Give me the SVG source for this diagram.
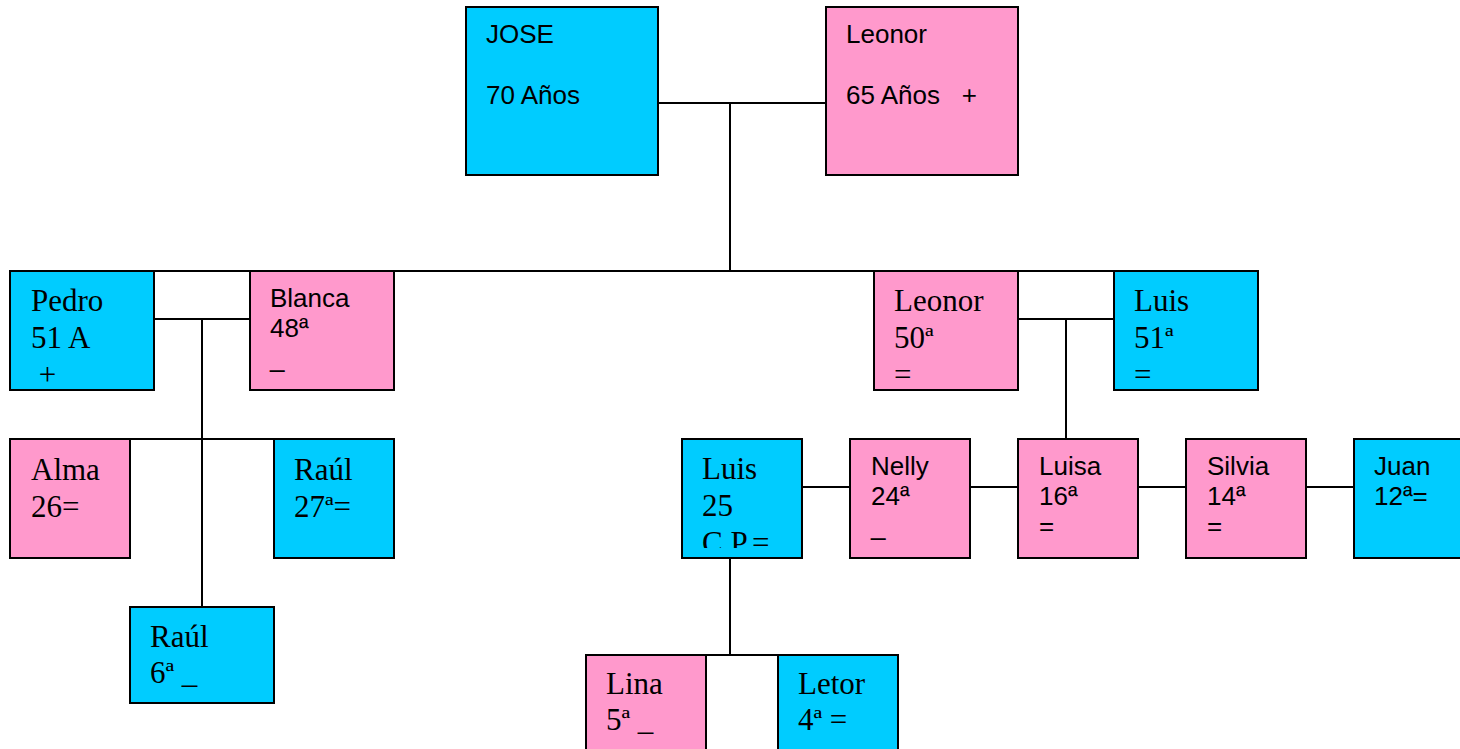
<svg xmlns="http://www.w3.org/2000/svg" width="1460" height="749" viewBox="0 0 1460 749">
<style>
.m{fill:#00CCFF;stroke:#000;stroke-width:2}
.f{fill:#FF99CC;stroke:#000;stroke-width:2}
.c line{stroke:#000;stroke-width:2}
.s{font-family:"Liberation Sans",Arial,sans-serif;font-size:26px;fill:#000}
.r{font-family:"Liberation Serif","Times New Roman",serif;font-size:31px;fill:#000}
</style>
<defs>
<clipPath id="clipLuis25"><rect x="683" y="440" width="118" height="108"/></clipPath>
</defs>
<rect width="1460" height="749" fill="#fff"/>
<g id="connectors" class="c">
<line x1="658" y1="103" x2="826" y2="103"/>
<line x1="730" y1="103" x2="730" y2="271"/>
<line x1="10" y1="271" x2="1258" y2="271"/>
<line x1="154" y1="319" x2="250" y2="319"/>
<line x1="202" y1="319" x2="202" y2="607"/>
<line x1="10" y1="439" x2="394" y2="439"/>
<line x1="1018" y1="319" x2="1114" y2="319"/>
<line x1="1066" y1="319" x2="1066" y2="439"/>
<line x1="802" y1="487" x2="850" y2="487"/>
<line x1="970" y1="487" x2="1018" y2="487"/>
<line x1="1138" y1="487" x2="1186" y2="487"/>
<line x1="1306" y1="487" x2="1354" y2="487"/>
<line x1="730" y1="558" x2="730" y2="655"/>
<line x1="586" y1="655" x2="898" y2="655"/>
</g>
<g id="jose">
<rect class="m" x="466" y="7" width="192" height="168"/>
<text class="s" x="486" y="43">JOSE</text>
<text class="s" x="486" y="104">70 Años</text>
</g>
<g id="leonor-65">
<rect class="f" x="826" y="7" width="192" height="168"/>
<text class="s" x="846" y="43">Leonor</text>
<text class="s" x="846" y="104" xml:space="preserve">65 Años   +</text>
</g>
<g id="pedro">
<rect class="m" x="10" y="271" width="144" height="119"/>
<text class="r" x="31" y="311">Pedro</text>
<text class="r" x="31" y="348">51 A</text>
<text class="r" x="31" y="385" xml:space="preserve"> +</text>
</g>
<g id="blanca">
<rect class="f" x="250" y="271" width="144" height="119"/>
<text class="s" x="270" y="307">Blanca</text>
<text class="s" x="270" y="337">48ª</text>
<text class="s" x="270" y="367">_</text>
</g>
<g id="leonor-50">
<rect class="f" x="874" y="271" width="144" height="119"/>
<text class="r" x="894" y="311">Leonor</text>
<text class="r" x="894" y="348">50ª</text>
<text class="r" x="894" y="385">=</text>
</g>
<g id="luis-51">
<rect class="m" x="1114" y="271" width="144" height="119"/>
<text class="r" x="1134" y="311">Luis</text>
<text class="r" x="1134" y="348">51ª</text>
<text class="r" x="1134" y="385">=</text>
</g>
<g id="alma">
<rect class="f" x="10" y="439" width="120" height="119"/>
<text class="r" x="31" y="480">Alma</text>
<text class="r" x="31" y="517">26=</text>
</g>
<g id="raul-27">
<rect class="m" x="274" y="439" width="120" height="119"/>
<text class="r" x="294" y="480">Raúl</text>
<text class="r" x="294" y="517">27ª=</text>
</g>
<g id="raul-6">
<rect class="m" x="130" y="607" width="144" height="96"/>
<text class="r" x="150" y="647">Raúl</text>
<text class="r" x="150" y="683">6ª _</text>
</g>
<g id="luis-25">
<rect class="m" x="682" y="439" width="120" height="119"/>
<g clip-path="url(#clipLuis25)">
<text class="r" x="702" y="479">Luis</text>
<text class="r" x="702" y="516">25</text>
<text class="r" x="702" y="553">C.P.=</text>
</g>
</g>
<g id="nelly">
<rect class="f" x="850" y="439" width="120" height="119"/>
<text class="s" x="871" y="475">Nelly</text>
<text class="s" x="871" y="505">24ª</text>
<text class="s" x="871" y="535">_</text>
</g>
<g id="luisa">
<rect class="f" x="1018" y="439" width="120" height="119"/>
<text class="s" x="1039" y="475">Luisa</text>
<text class="s" x="1039" y="505">16ª</text>
<text class="s" x="1039" y="535">=</text>
</g>
<g id="silvia">
<rect class="f" x="1186" y="439" width="120" height="119"/>
<text class="s" x="1207" y="475">Silvia</text>
<text class="s" x="1207" y="505">14ª</text>
<text class="s" x="1207" y="535">=</text>
</g>
<g id="juan">
<rect class="m" x="1354" y="439" width="130" height="119"/>
<text class="s" x="1374" y="475">Juan</text>
<text class="s" x="1374" y="505">12ª=</text>
</g>
<g id="lina">
<rect class="f" x="586" y="655" width="120" height="110"/>
<text class="r" x="606" y="694">Lina</text>
<text class="r" x="606" y="730">5ª _</text>
</g>
<g id="letor">
<rect class="m" x="778" y="655" width="120" height="110"/>
<text class="r" x="798" y="694">Letor</text>
<text class="r" x="798" y="730">4ª =</text>
</g>
</svg>
